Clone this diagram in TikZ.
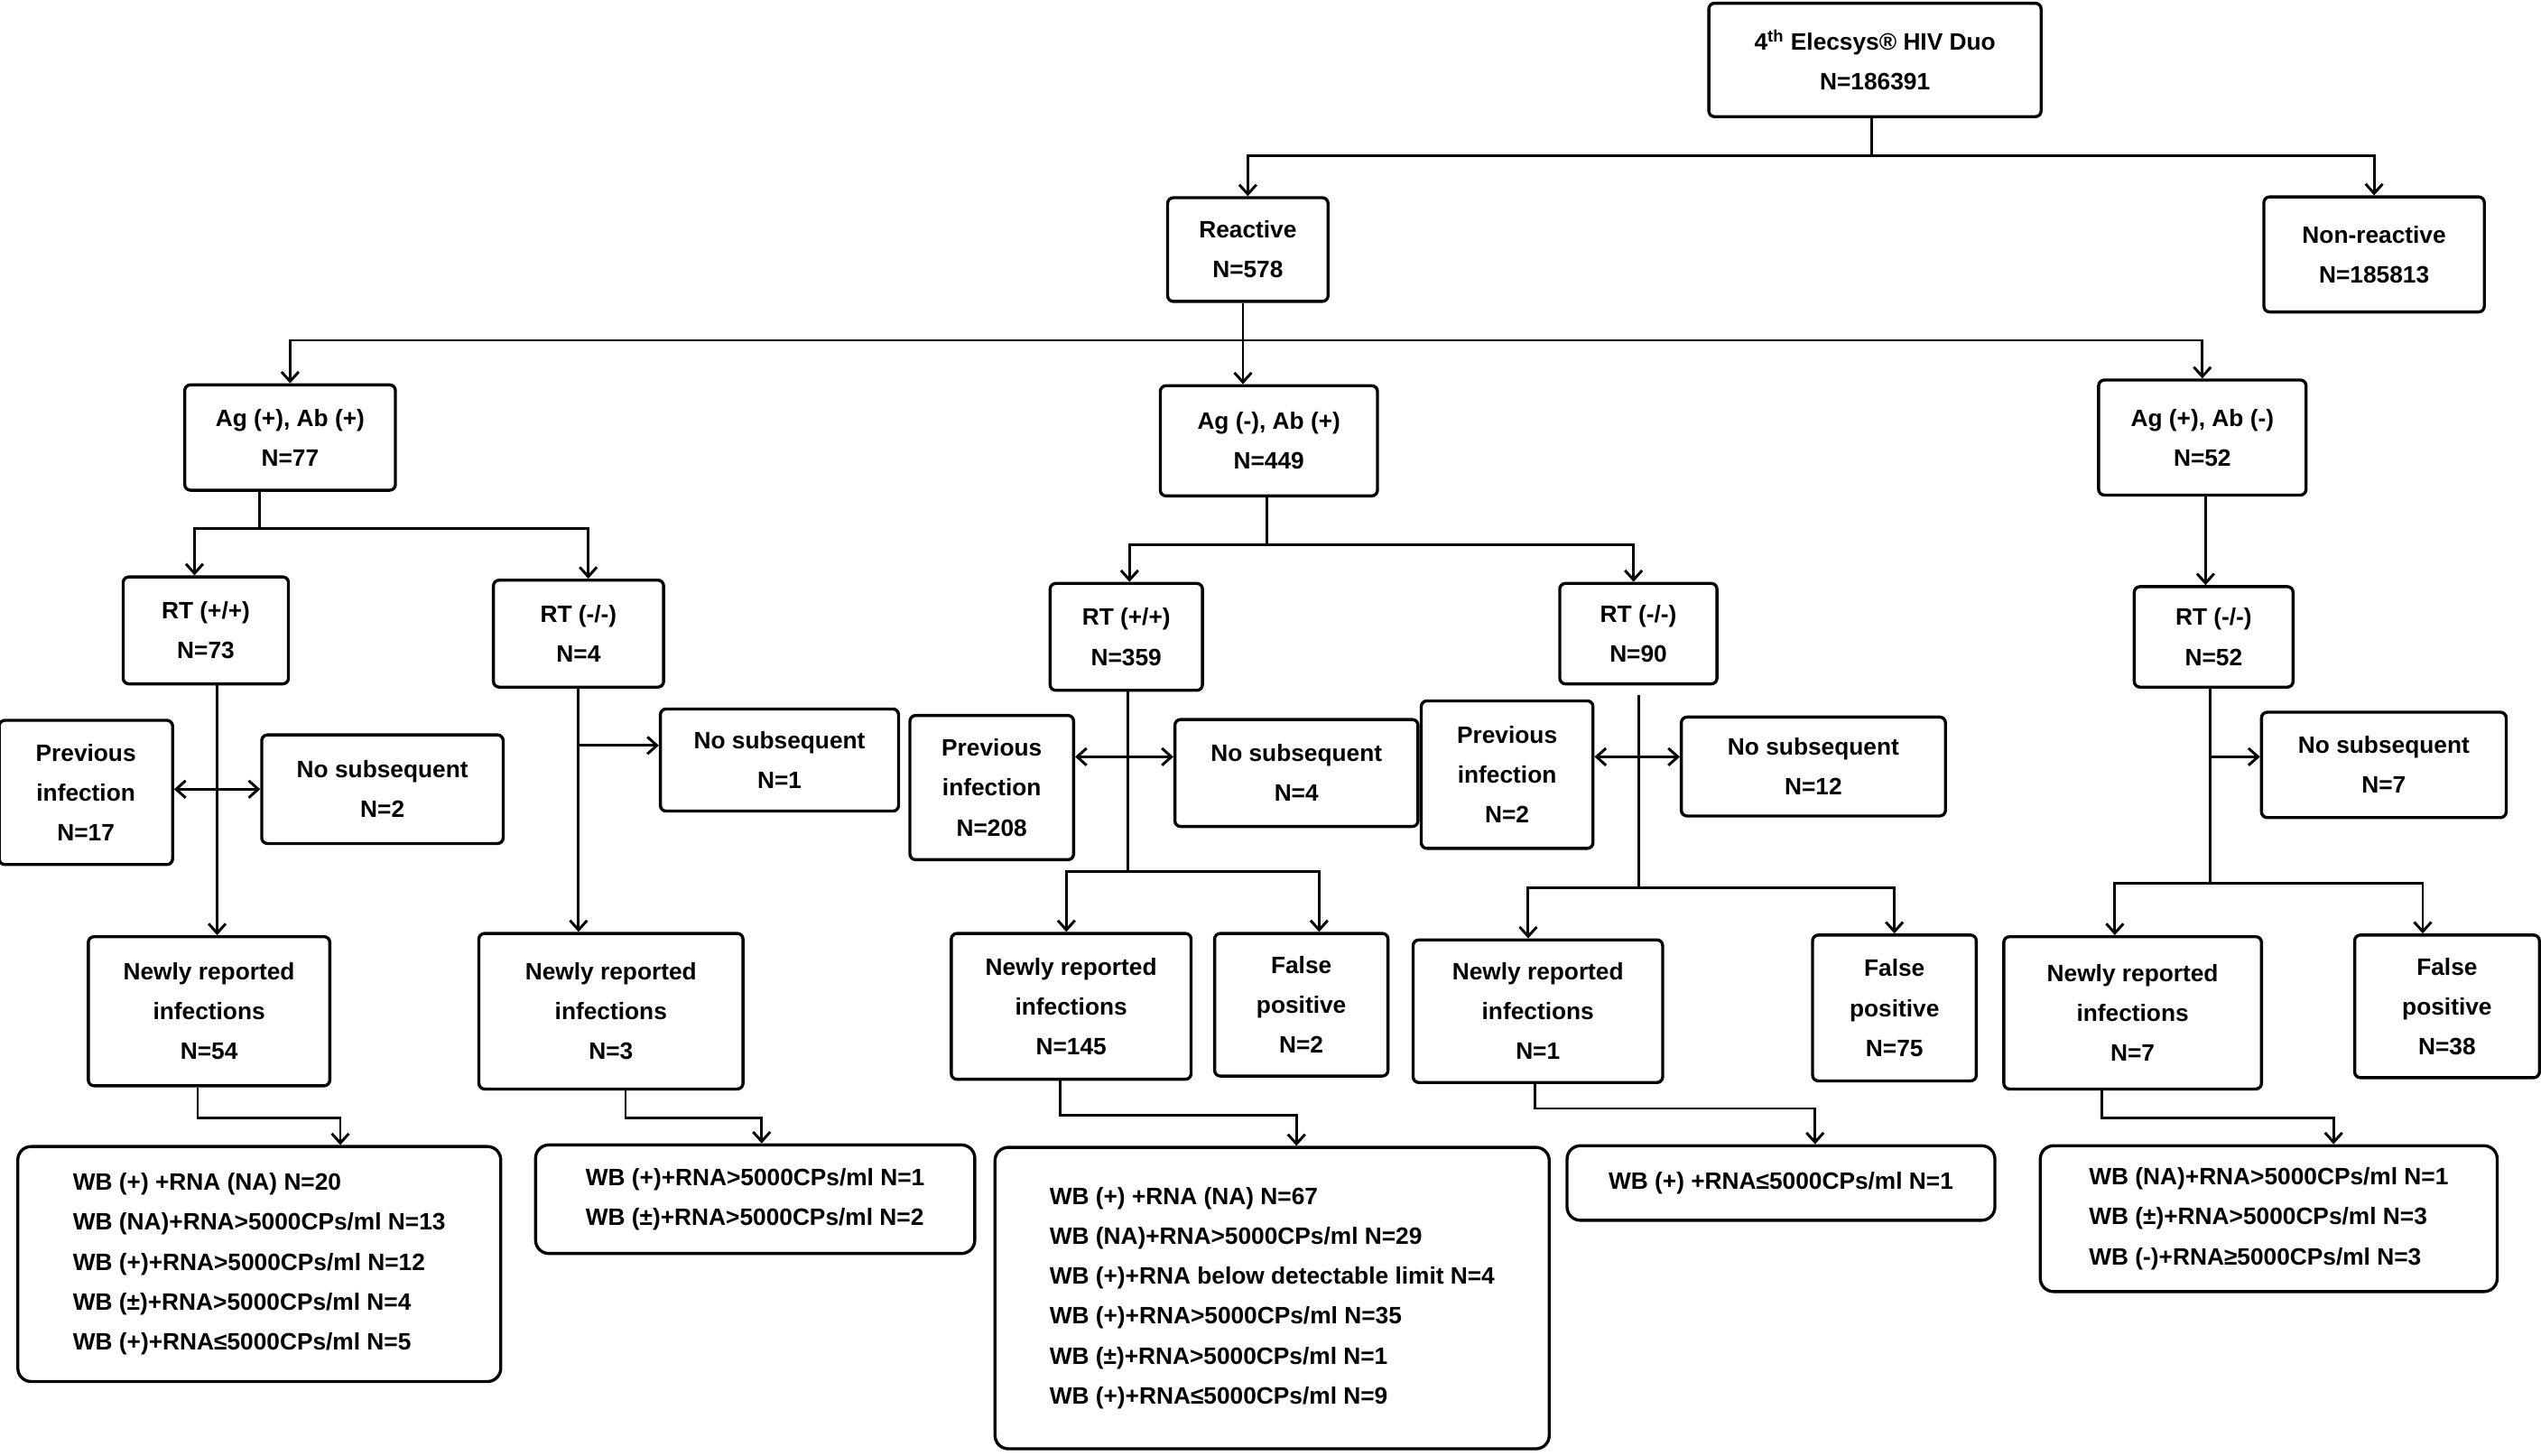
\documentclass[tikz,border=0pt]{standalone}
\usepackage{fontspec}
\setmainfont{Liberation Sans}
\usetikzlibrary{arrows.meta, positioning}

\begin{document}
\begin{tikzpicture}[x=0.03cm, y=-0.03cm, >={Straight Barb[length=5pt,width=9pt]},
line width=1.4pt,
box/.style={draw, line width=1.6pt, rounded corners=3pt, align=center, inner sep=2pt,
  font=\fontsize{12.5}{21}\selectfont\bfseries},
wb/.style={box, rounded corners=7pt, align=left, inner sep=8pt},
sz/.style 2 args={minimum width=#1*0.03cm, minimum height=#2*0.03cm}
]
\useasboundingbox (0,0) rectangle (1568,898);

% first level
\node[box, sz={205}{70}] (duo) at (1157,37) {4\textsuperscript{th} Elecsys® HIV Duo\\N=186391};
\node[box, sz={99}{64}] (reac) at (770,154) {Reactive\\N=578};
\node[box, sz={136}{71}] (nonr) at (1465,157) {Non-reactive\\N=185813};

% antigen / antibody groups
\node[box, sz={130}{65}] (agab1) at (179,270) {Ag (+), Ab (+)\\N=77};
\node[box, sz={134}{68}] (agab2) at (783,272) {Ag (-), Ab (+)\\N=449};
\node[box, sz={128}{71}] (agab3) at (1359,270) {Ag (+), Ab (-)\\N=52};

% retests
\node[box, sz={102}{66}] (rt1) at (127,389) {RT (+/+)\\N=73};
\node[box, sz={105}{66}] (rt2) at (357,391) {RT (-/-)\\N=4};
\node[box, sz={94}{66}] (rt3) at (695,393) {RT (+/+)\\N=359};
\node[box, sz={97}{62}] (rt4) at (1011,391) {RT (-/-)\\N=90};
\node[box, sz={98}{62}] (rt5) at (1366,393) {RT (-/-)\\N=52};

% previous / no subsequent
\node[box, sz={107}{89}] (prev1) at (53,489) {Previous\\infection\\N=17};
\node[box, sz={149}{67}] (nos1) at (236,487) {No subsequent\\N=2};
\node[box, sz={147}{63}] (nos2) at (481,469) {No subsequent\\N=1};
\node[box, sz={101}{89}] (prev2) at (612,486) {Previous\\infection\\N=208};
\node[box, sz={150}{66}] (nos3) at (800,477) {No subsequent\\N=4};
\node[box, sz={106}{91}] (prev3) at (930,478) {Previous\\infection\\N=2};
\node[box, sz={163}{61}] (nos4) at (1119,473) {No subsequent\\N=12};
\node[box, sz={151}{65}] (nos5) at (1471,472) {No subsequent\\N=7};

% outcomes
\node[box, sz={149}{92}] (new1) at (129,624) {Newly reported\\infections\\N=54};
\node[box, sz={163}{96}] (new2) at (377,624) {Newly reported\\infections\\N=3};
\node[box, sz={148}{90}] (new3) at (661,621) {Newly reported\\infections\\N=145};
\node[box, sz={107}{88}] (fp1) at (803,620) {False\\positive\\N=2};
\node[box, sz={154}{88}] (new4) at (949,624) {Newly reported\\infections\\N=1};
\node[box, sz={101}{90}] (fp2) at (1169,622) {False\\positive\\N=75};
\node[box, sz={159}{94}] (new5) at (1316,625) {Newly reported\\infections\\N=7};
\node[box, sz={114}{88}] (fp3) at (1510,621) {False\\positive\\N=38};

% western blot details
\node[wb, sz={298}{145}] (wb1) at (160,780) {WB (+) +RNA (NA) N=20\\WB (NA)+RNA>5000CPs/ml N=13\\WB (+)+RNA>5000CPs/ml N=12\\WB (±)+RNA>5000CPs/ml N=4\\WB (+)+RNA≤5000CPs/ml N=5};
\node[wb, sz={271}{67}] (wb2) at (466,740) {WB (+)+RNA>5000CPs/ml N=1\\WB (±)+RNA>5000CPs/ml N=2};
\node[wb, sz={342}{186}] (wb3) at (785,801) {WB (+) +RNA (NA) N=67\\WB (NA)+RNA>5000CPs/ml N=29\\WB (+)+RNA below detectable limit N=4\\WB (+)+RNA>5000CPs/ml N=35\\WB (±)+RNA>5000CPs/ml N=1\\WB (+)+RNA≤5000CPs/ml N=9};
\node[wb, sz={264}{46}] (wb4) at (1099,730) {WB (+) +RNA≤5000CPs/ml N=1};
\node[wb, sz={282}{90}] (wb5) at (1400,752) {WB (NA)+RNA>5000CPs/ml N=1\\WB (±)+RNA>5000CPs/ml N=3\\WB (-)+RNA≥5000CPs/ml N=3};

% connectors
\coordinate (j0) at (1155,96);
\draw (duo.south -| j0) -- (j0);
\draw[->] (j0) -| (reac.north);
\draw[->] (j0) -| (nonr.north);

\coordinate (j1) at (767,210);
\draw[->] (reac.south -| j1) -- (agab2.north -| j1);
\draw[->] (j1) -| (agab1.north);
\draw[->] (j1) -| (agab3.north);

\coordinate (j2) at (160,326);
\draw (agab1.south -| j2) -- (j2);
\draw[->] (j2) -| ([xshift=-7*0.03cm]rt1.north);
\draw[->] (j2) -| ([xshift=6*0.03cm]rt2.north);

\coordinate (j3) at (782,336);
\draw (agab2.south -| j3) -- (j3);
\draw[->] (j3) -| ([xshift=2*0.03cm]rt3.north);
\draw[->] (j3) -| ([xshift=-3*0.03cm]rt4.north);

\coordinate (j4) at (1361,306);
\draw[->] (j4) -- (rt5.north -| j4);

% left branch
\coordinate (c1) at (134,422);
\draw[->] (c1) -- (new1.north -| c1);
\draw[<->] (prev1.east |- nos1) -- (nos1.west);

\coordinate (c2) at (357,424);
\draw[->] (c2) -- (new2.north -| c2);
\draw[->] (357,460) -- (nos2.west |- 0,460);

% middle branch
\coordinate (c3) at (696,426);
\coordinate (k3) at (696,538);
\draw (c3) -- (k3);
\draw[->] (k3) -| ([xshift=-3*0.03cm]new3.north);
\draw[->] (k3) -| ([xshift=11*0.03cm]fp1.north);
\draw[<->] (prev2.east |- 0,467) -- (nos3.west |- 0,467);

\coordinate (c4) at (1011,429);
\coordinate (k4) at (1011,548);
\draw (c4) -- (k4);
\draw[->] (k4) -| ([xshift=-6*0.03cm]new4.north);
\draw[->] (k4) -| (fp2.north);
\draw[<->] (prev3.east |- 0,467) -- (nos4.west |- 0,467);

% right branch
\coordinate (c5) at (1364,424);
\coordinate (k5) at (1364,545);
\draw (c5) -- (k5);
\draw[->] (k5) -| ([xshift=-11*0.03cm]new5.north);
\draw[->] (k5) -| ([xshift=-15*0.03cm]fp3.north);
\draw[->] (1364,467) -- (nos5.west |- 0,467);

% outcomes to blots
\draw[->] ([xshift=-7*0.03cm]new1.south) |- (210,690) -- (wb1.north -| 210,0);
\draw[->] ([xshift=9*0.03cm]new2.south) |- (470,690) -- (wb2.north -| 470,0);
\draw[->] ([xshift=-7*0.03cm]new3.south) |- (800,688) -- (wb3.north -| 800,0);
\draw[->] ([xshift=-2*0.03cm]new4.south) |- (1120,684) -- (wb4.north -| 1120,0);
\draw[->] ([xshift=-19*0.03cm]new5.south) |- (1440,690) -- (wb5.north -| 1440,0);
\end{tikzpicture}
\end{document}
